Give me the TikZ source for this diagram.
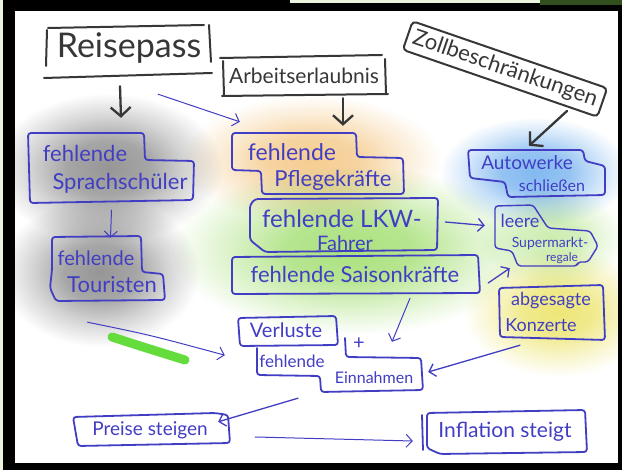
\documentclass[tikz,border=0pt]{standalone}
\usepackage{fontspec}
\setmainfont{Lato}
\usetikzlibrary{arrows.meta,calc}
\definecolor{blueink}{RGB}{66,62,196}
\definecolor{grayink}{RGB}{55,55,55}
\definecolor{shadegray}{RGB}{150,150,150}
\definecolor{peach}{RGB}{245,205,145}
\definecolor{leaf}{RGB}{170,225,125}
\definecolor{sky}{RGB}{130,185,240}
\definecolor{lemon}{RGB}{238,230,120}
\definecolor{marker}{RGB}{100,220,60}
\definecolor{edgegreen}{RGB}{235,244,220}
\definecolor{darkgreen}{RGB}{50,80,30}
\colorlet{blobcol}{white}
\pgfdeclareradialshading[blobcol]{softc}{\pgfpointorigin}{color(0bp)=(blobcol); color(9bp)=(blobcol!85!white); color(17bp)=(blobcol!40!white); color(25bp)=(white); color(50bp)=(white)}
\tikzset{
  gink/.style={draw=grayink, line width=2pt, line cap=round, line join=round},
  bink/.style={draw=blueink, line width=1.8pt, line cap=round, line join=round, rounded corners=3pt},
  garrow/.style={draw=grayink, line width=2.3pt, line cap=round, -{Straight Barb[length=9pt,width=20pt]}},
  barrow/.style={draw=blueink, line width=1.3pt, line cap=round, -{Straight Barb[length=6pt,width=13pt]}},
  lbl/.style={text=blueink, inner sep=0pt},
  glbl/.style={text=grayink, inner sep=0pt},
  boxn/.style={inner sep=0pt, draw=none},
  blobshade/.style={shading=softc, blend mode=multiply},
}
\newcommand{\fs}[1]{\fontsize{#1}{#1}\selectfont}
\newcommand{\myblob}[4]{\colorlet{blobcol}{#1}\shade[blobshade] (#2) ellipse (#3 and #4);}
\begin{document}
\begin{tikzpicture}[x=1pt,y=-1pt]
% frame
\fill[black] (0,0) rectangle (622,470);
\fill[white] (15,11) rectangle (618,463);
\fill[edgegreen] (0,0) rectangle (3,470);
\fill[edgegreen] (290,0) rectangle (540,3);
\fill[darkgreen] (540,0) rectangle (622,5);
\useasboundingbox (0,0) rectangle (622,470);

% soft background blobs
\begin{scope}
\clip (15,11) rectangle (618,463);
\myblob{shadegray}{108,168}{115}{75}
\myblob{shadegray}{100,272}{100}{75}
\myblob{peach}{312,160}{130}{65}
\myblob{leaf}{350,250}{180}{85}
\myblob{sky}{535,172}{95}{55}
\myblob{leaf!60!white}{552,238}{75}{50}
\myblob{lemon}{558,312}{95}{65}
\end{scope}

% invisible box nodes (geometry of the hand-drawn boxes)
\node[boxn, minimum width=166pt, minimum height=51pt] (bReise) at (129,51.5) {};
\node[boxn, minimum width=164pt, minimum height=38pt] (bArbeit) at (304,76) {};
\node[boxn, minimum width=167pt, minimum height=70pt] (bSprach) at (111.5,168) {};
\node[boxn, minimum width=115pt, minimum height=64pt] (bTour) at (107.5,268) {};
\node[boxn, minimum width=172pt, minimum height=61pt] (bPflege) at (318,163.5) {};
\node[boxn, minimum width=188pt, minimum height=54pt] (bLkw) at (344,225) {};
\node[boxn, minimum width=250pt, minimum height=37pt] (bSaison) at (355,274.5) {};
\node[boxn, minimum width=138pt, minimum height=48pt] (bAuto) at (537,174) {};
\node[boxn, minimum width=105pt, minimum height=61pt] (bMarkt) at (545.5,235.5) {};
\node[boxn, minimum width=108pt, minimum height=52pt] (bKonz) at (551,313) {};
\node[boxn, minimum width=101pt, minimum height=28pt] (bVerl) at (287.5,331) {};
\node[boxn, minimum width=166pt, minimum height=44pt] (bEin) at (339,368) {};
\node[boxn, minimum width=158pt, minimum height=30pt] (bPreise) at (151,430) {};
\node[boxn, minimum width=164pt, minimum height=40pt] (bInfl) at (504,432) {};

% gray boxes
\draw[gink] (47,30) -- (46,66);
\draw[gink] (48,28) -- (204,25);
\draw[gink] (209,25) -- (211,62);
\draw[gink] (44,78) -- (212,73);
\draw[gink] (223,61) -- (224,95);
\draw[gink] (220,58) -- (382,55);
\draw[gink] (385,59) -- (386,94);
\draw[gink] (222,96) -- (388,94);

% gray texts
\node[glbl, font=\fs{34}] (tReise) at (129,48) {Reisepass};
\node[glbl, font=\fs{21}] (tArbeit) at (304,76) {Arbeitserlaubnis};
\node[glbl, font=\fs{22}, rotate=-19, draw=grayink, line width=2pt, rounded corners=4pt, inner xsep=6pt, inner ysep=5pt] (tZoll) at (505,69) {Zollbeschränkungen};

% gray arrows
\draw[garrow] ($(bReise.south)+(-9,9)$) -- ($(bSprach.north)+(9.5,-15)$);
\draw[garrow] ($(bArbeit.south)+(39,3)$) -- ($(bPflege.north)+(25,-7)$);
\draw[garrow] ($(tZoll.center)+(62,42)$) -- ($(bAuto.north)+(-8,-4)$);

% blue boxes
\draw[bink] (28,133) -- (144,133) -- (145,160) -- (194,161) -- (193,200) -- (30,203) -- cycle;
\draw[bink] (52,237) -- (141,236) -- (142,272) -- (163,274) -- (165,300) -- (56,301) -- (50,288) -- (52,270) -- cycle;
\draw[bink] (232,133) -- (356,133) -- (357,157) -- (403,158) -- (404,194) -- (262,194) -- (261,171) -- (232,170) -- cycle;
\draw[bink] (255,199) -- (438,198) -- (437,250) -- (265,252) -- (250,240) -- (250,205) -- cycle;
\draw[bink] (232,257) -- (478,255) -- (480,293) -- (232,294) -- cycle;
\draw[bink] (468,150) -- (583,150) -- (585,161) -- (605,166) -- (605,195) -- (508,197) -- (505,182) -- (470,178) -- cycle;
\draw[bink, line width=1.4pt] (495,206) -- (533,205) -- (548,228) -- (590,231) -- (598,246) -- (588,262) -- (578,262) -- (577,266) -- (518,266) -- (512,251) -- (495,248) -- cycle;
\draw[bink] (499,288) -- (603,285) -- (605,340) -- (500,337) -- cycle;
\draw[bink] (238,318) -- (336,316) -- (338,345) -- (240,346) -- cycle;
\draw[bink] (257,348) -- (257,375) -- (320,376) -- (321,392) -- (423,390) -- (421,358) -- (346,357) -- (345,338);
\draw[bink] (73,417) -- (215,413) -- (228,415) -- (230,443) -- (78,446) -- cycle;
\draw[bink] (422,415) -- (423,450);
\draw[bink] (427,413) -- (585,410) -- (587,452) -- (440,454) -- (427,448) -- cycle;

% green marker stroke
\draw[marker, line width=9pt, line cap=round] (112,337) .. controls (140,346) .. (185,360);

% blue texts
\node[lbl, font=\fs{22}] (tSprach1) at (85,153) {fehlende};
\node[lbl, font=\fs{22}] (tSprach2) at (120,183) {Sprachschüler};
\node[lbl, font=\fs{20}] (tTour1) at (96,258) {fehlende};
\node[lbl, font=\fs{22}] (tTour2) at (112,285) {Touristen};
\node[lbl, font=\fs{23}] (tPflege1) at (292,152) {fehlende};
\node[lbl, font=\fs{22}] (tPflege2) at (333,180) {Pflegekräfte};
\node[lbl, font=\fs{24}] (tLkw1) at (342,219) {fehlende LKW-};
\node[lbl, font=\fs{20}] (tLkw2) at (345,243) {Fahrer};
\node[lbl, font=\fs{22}] (tSaison) at (355,274) {fehlende Saisonkräfte};
\node[lbl, font=\fs{19}] (tAuto1) at (527,163) {Autowerke};
\node[lbl, font=\fs{16}] (tAuto2) at (552,186) {schließen};
\node[lbl, font=\fs{18}] (tMarkt1) at (520,221) {leere};
\node[lbl, font=\fs{14}] (tMarkt2) at (550,244) {Supermarkt-};
\node[lbl, font=\fs{12}] (tMarkt3) at (562,258) {regale};
\node[lbl, font=\fs{18}] (tKonz1) at (551,301) {abgesagte};
\node[lbl, font=\fs{18}] (tKonz2) at (541,325) {Konzerte};
\node[lbl, font=\fs{20}] (tVerl) at (286,330) {Verluste};
\node[lbl, font=\fs{20}] (tPlus) at (359,344) {+};
\node[lbl, font=\fs{17}] (tEin1) at (292,361) {fehlende};
\node[lbl, font=\fs{16}] (tEin2) at (374,378) {Einnahmen};
\node[lbl, font=\fs{19}] (tPreise) at (150,430) {Preise steigen};
\node[lbl, font=\fs{21}] (tInfl) at (505,432) {Inflation steigt};

% blue arrows
\draw[barrow, line width=1pt] ($(bReise.south)+(29,17)$) -- ($(bPflege.north west)+(8,-11)$);
\draw[barrow, line width=1pt] ($(bSprach.south)+(0,7)$) -- ($(bTour.north)+(3,2)$);
\draw[barrow] ($(bLkw.east)+(7,-3)$) -- ($(bMarkt.west)+(-8,-10)$);
\draw[barrow] ($(bSaison.east)+(8,8.5)$) -- ($(bMarkt.south west)+(17,2)$);
\draw[barrow, line width=1pt] ($(bTour.south)+(-20,22)$) .. controls (150,335) .. ($(bVerl.south west)+(-12,10)$);
\draw[barrow, line width=1pt] ($(bSaison.south)+(55,5)$) -- ($(bEin.north)+(53,-4)$);
\draw[barrow] ($(bKonz.south)+(-31,6)$) -- ($(bEin.east)+(6,4)$);
\draw[barrow] ($(bEin.south)+(-41,8)$) -- ($(bPreise.north east)+(-12,7)$);
\draw[barrow, line width=1pt] ($(bPreise.east)+(25,7)$) -- ($(bInfl.west)+(-9,9)$);
\end{tikzpicture}
\end{document}
